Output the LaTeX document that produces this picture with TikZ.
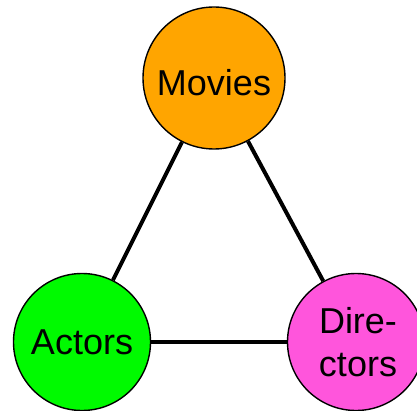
\documentclass[tikz,border=0pt]{standalone}
\usepackage{fontspec}
\setmainfont{Liberation Sans}
\definecolor{movieorange}{RGB}{255,165,0}
\definecolor{actorgreen}{RGB}{0,250,0}
\definecolor{directorpink}{RGB}{255,85,220}
\begin{document}
\begin{tikzpicture}[x=1pt, y=-1pt, vertex/.style = {circle, draw, line width=1.4pt, minimum size=#1, inner sep=0pt, align=center, font=\fontsize{36}{42}\selectfont}, vertex/.default = 137pt, link/.style = {line width=4pt}]

% Frame
\useasboundingbox (0,0) rectangle (417,411);

% Circles
\node[vertex=142pt, fill=movieorange, text height=36pt, text depth=0pt] (movies) at (214,78) {Movies};
\node[vertex, fill=actorgreen] (actors) at (82,342) {Actors};
\node[vertex, fill=directorpink, font=\fontsize{36}{43}\selectfont] (directors) at (356,342) {\hspace*{4pt}Dire-\\\hspace*{4pt}ctors};

% Links
\draw[link] (movies) -- (actors);
\draw[link] (movies) -- (directors);
\draw[link] (actors) -- (directors);

\end{tikzpicture}
\end{document}
